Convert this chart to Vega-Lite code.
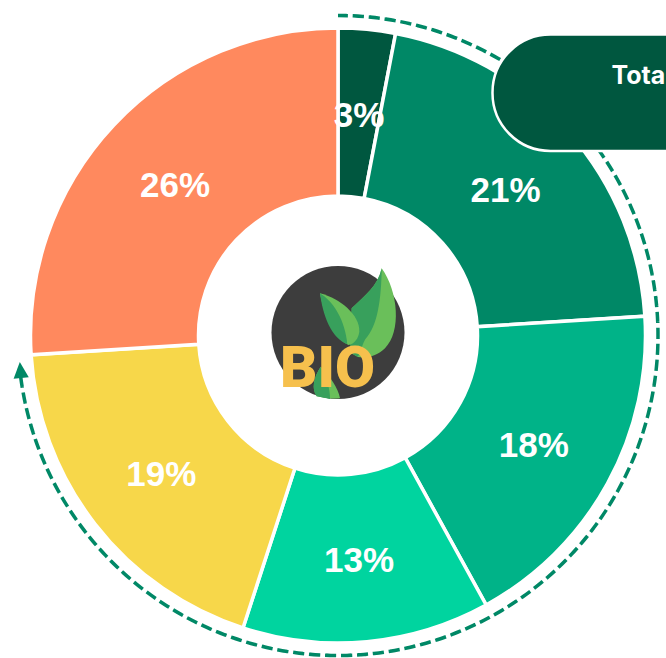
{"$schema":"https://vega.github.io/schema/vega-lite/v6.json","width":666,"height":658,"padding":0,"autosize":"none","background":"white","config":{"view":{"stroke":null}},
"datasets":{"shares":[{"i":1,"share":3,"label":"3%","name":"A"},{"i":2,"share":21,"label":"21%","name":"B"},{"i":3,"share":18,"label":"18%","name":"C"},{"i":4,"share":13,"label":"13%","name":"D"},{"i":5,"share":19,"label":"19%","name":"E"},{"i":6,"share":26,"label":"26%","name":"F"}],"guide":[{"from":0,"to":73.06}],"one":[{"k":1}],"title":[{"t":"Total"}]},
"layer":[
{"data":{"name":"guide"},"mark":{"type":"arc","radius":320,"radius2":320,"filled":false,"stroke":"#008866","strokeWidth":3.5,"strokeDash":[10,6]},"encoding":{"x":{"datum":338,"type":"quantitative","scale":{"domain":[0,666],"range":[0,666],"nice":false,"zero":false},"axis":null},"y":{"datum":335.5,"type":"quantitative","scale":{"domain":[0,658],"range":[0,658],"nice":false,"zero":false},"axis":null},"theta":{"field":"from","type":"quantitative","scale":{"domain":[0,100],"range":[0,6.283185307]}},"theta2":{"field":"to"}}},
{"data":{"name":"one"},"mark":{"type":"point","shape":"M0,-1L-.95,1L.95,1Z","filled":true,"fill":"#008866","size":256,"angle":-5,"opacity":1,"strokeWidth":0},"encoding":{"x":{"datum":20.5,"type":"quantitative"},"y":{"datum":370,"type":"quantitative"}}},
{"data":{"name":"shares"},"mark":{"type":"arc","radius":307.5,"radius2":139.5,"stroke":"white","strokeWidth":3.5},"encoding":{"x":{"datum":338,"type":"quantitative"},"y":{"datum":335.5,"type":"quantitative"},"theta":{"field":"share","type":"quantitative","stack":true},"order":{"field":"i","type":"quantitative"},"color":{"field":"name","type":"nominal","legend":null,"scale":{"domain":["A","B","C","D","E","F"],"range":["#00573f","#008866","#00b388","#00d49f","#f7d74a","#ff895e"]}}}},
{"data":{"name":"shares"},"mark":{"type":"text","radius":223.5,"fill":"white","font":"Liberation Sans","fontWeight":700,"fontSize":35,"align":"center","baseline":"middle","dy":3},"encoding":{"x":{"datum":338,"type":"quantitative"},"y":{"datum":335.5,"type":"quantitative"},"theta":{"field":"share","type":"quantitative","stack":true},"order":{"field":"i","type":"quantitative"},"detail":{"field":"name"},"text":{"field":"label"}}},
{"data":{"name":"one"},"mark":{"type":"point","shape":"circle","filled":true,"fill":"#3d3d3d","size":17689,"opacity":1,"strokeWidth":0},"encoding":{"x":{"datum":338,"type":"quantitative"},"y":{"datum":332.5,"type":"quantitative"}}},
{"data":{"name":"one"},"mark":{"type":"point","shape":"M.657,-.965C.907,-.614 .957,-.013 .707,.238C.581,.363 .431,.388 .3,.37L.18,.3L.2,.05L.205,-.363C.4,-.55 .6,-.7 .657,-.965Z","filled":true,"fill":"#6abf5a","size":17689,"opacity":1,"strokeWidth":0},"encoding":{"x":{"datum":338,"type":"quantitative"},"y":{"datum":332.5,"type":"quantitative"}}},
{"data":{"name":"one"},"mark":{"type":"point","shape":"M.657,-.965C.6,-.7 .4,-.55 .205,-.363L.18,.3L.3,.37C.35,.25 .38,.15 .41,.1C.6,-.1 .65,-.5 .657,-.965Z","filled":true,"fill":"#38a05c","size":17689,"opacity":1,"strokeWidth":0},"encoding":{"x":{"datum":338,"type":"quantitative"},"y":{"datum":332.5,"type":"quantitative"}}},
{"data":{"name":"one"},"mark":{"type":"point","shape":"M-.271,-.589C.03,-.514 .33,-.263 .32,-.013C.31,.08 .25,.17 .155,.188C.03,.128 -.17,-.06 -.271,-.589Z","filled":true,"fill":"#6abf5a","size":17689,"opacity":1,"strokeWidth":0},"encoding":{"x":{"datum":338,"type":"quantitative"},"y":{"datum":332.5,"type":"quantitative"}}},
{"data":{"name":"one"},"mark":{"type":"point","shape":"M-.271,-.589C-.07,-.464 .105,-.19 .14,.178C0,.128 -.2,-.06 -.271,-.589Z","filled":true,"fill":"#38a05c","size":17689,"opacity":1,"strokeWidth":0},"encoding":{"x":{"datum":338,"type":"quantitative"},"y":{"datum":332.5,"type":"quantitative"}}},
{"data":{"name":"one"},"mark":{"type":"point","shape":"M-.26,.514C-.37,.68 -.4,.85 -.32,.96C-.15,1 .01,1 .03,.985C.0,.83 -.12,.66 -.26,.514Z","filled":true,"fill":"#6abf5a","size":17689,"opacity":1,"strokeWidth":0},"encoding":{"x":{"datum":338,"type":"quantitative"},"y":{"datum":332.5,"type":"quantitative"}}},
{"data":{"name":"one"},"mark":{"type":"point","shape":"M-.26,.514C-.37,.68 -.4,.85 -.32,.96L-.12,1C-.12,.83 -.18,.66 -.26,.514Z","filled":true,"fill":"#38a05c","size":17689,"opacity":1,"strokeWidth":0},"encoding":{"x":{"datum":338,"type":"quantitative"},"y":{"datum":332.5,"type":"quantitative"}}},
{"data":{"name":"one"},"mark":{"type":"text","text":"BIO","font":"Roboto","fontWeight":900,"fontSize":58,"fill":"#f6c04d","align":"center","baseline":"alphabetic"},"encoding":{"x":{"datum":327.5,"type":"quantitative"},"y":{"datum":387,"type":"quantitative"}}},
{"data":{"name":"one"},"mark":{"type":"rect","fill":"#00573f","stroke":"white","strokeWidth":2.5,"cornerRadius":58},"encoding":{"x":{"datum":492.5,"type":"quantitative"},"x2":{"datum":800},"y":{"datum":34.5,"type":"quantitative"},"y2":{"datum":151}}},
{"data":{"name":"title"},"mark":{"type":"text","fill":"white","font":"Inter","fontWeight":700,"fontSize":25,"align":"left","baseline":"middle"},"encoding":{"x":{"datum":611.5,"type":"quantitative"},"y":{"datum":75.5,"type":"quantitative"},"text":{"field":"t"}}}
]}
